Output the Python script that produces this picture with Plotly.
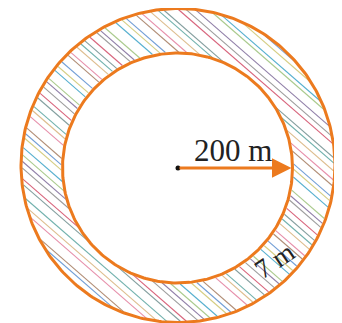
import numpy as np
import plotly.graph_objects as go

# values shown in the diagram
inner_radius_m = 200
path_width_m = 7
radius_label = f"{inner_radius_m} m"
width_label = f"{path_width_m} m"

# drawing (not to scale), in pixels
W, H = 342, 323
PAGE_MARGIN = 8  # default body margin of the html page
outer_c, outer_r = (178.0, 165.5), 157.0
inner_c, inner_r = (177.5, 168.0), 115.0
ORANGE = "#ec7a1e"

# hatch colours and gaps between neighbouring hatch lines
hatch_colors = ["#5b8fd0", "#8c8c8c", "#e37c9c", "#9cc27a", "#5aa5a0", "#cfc66e",
                "#d24a66", "#a47a5e", "#7e6a9a", "#d8b27a", "#3aa3c8", "#6f8f8f"]
hatch_gaps = [5, 8, 4, 9, 6, 5, 10, 4, 6, 7, 5, 9, 4, 6, 11, 5, 4, 8, 6, 5]
hatch_angle = 41  # degrees, "\" direction


def circle_xy(c, r, n=361):
    t = np.linspace(0, 2 * np.pi, n)
    return c[0] + r * np.cos(t), c[1] + r * np.sin(t)


def hatch_segments():
    a = np.radians(hatch_angle)
    d = np.array([np.cos(a), np.sin(a)])
    nrm = np.array([-np.sin(a), np.cos(a)])
    oc, ic = np.array(outer_c), np.array(inner_c)
    segs = {col: ([], []) for col in hatch_colors}
    t = -outer_r + 2
    k = 0
    while t < outer_r - 1:
        base = oc + t * nrm
        h = np.sqrt(outer_r ** 2 - t ** 2)
        s0, s1 = -h, h
        # intersection with inner circle in the same parametrisation
        rel = base - ic
        b = rel @ d
        cc = rel @ rel - inner_r ** 2
        disc = b * b - cc
        pieces = [(s0, s1)]
        if disc > 0:
            q = np.sqrt(disc)
            pieces = [(s0, -b - q), (-b + q, s1)]
        col = hatch_colors[(k * 5) % len(hatch_colors)]
        for p0, p1 in pieces:
            if p1 - p0 < 0.5:
                continue
            a0 = base + (p0 + 1.5) * d
            a1 = base + (p1 - 1.5) * d
            segs[col][0].extend([a0[0], a1[0], None])
            segs[col][1].extend([a0[1], a1[1], None])
        t += hatch_gaps[k % len(hatch_gaps)]
        k += 1
    return segs


fig = go.Figure()

for col, (xs, ys) in hatch_segments().items():
    fig.add_trace(go.Scatter(x=xs, y=ys, mode="lines", opacity=0.85,
                             line=dict(color=col, width=1.1), hoverinfo="skip"))

for c, r in [(outer_c, outer_r), (inner_c, inner_r)]:
    x, y = circle_xy(c, r)
    fig.add_trace(go.Scatter(x=x, y=y, mode="lines",
                             line=dict(color=ORANGE, width=3), hoverinfo="skip"))

# centre dot
fig.add_trace(go.Scatter(x=[178], y=[168], mode="markers",
                         marker=dict(color="#111111", size=5), hoverinfo="skip"))

# radius arrow
fig.add_annotation(x=inner_c[0] + inner_r - 1, y=168, ax=178, ay=168,
                   xref="x", yref="y", axref="x", ayref="y",
                   showarrow=True, arrowhead=2, arrowsize=1.3, arrowwidth=3,
                   arrowcolor=ORANGE, text="")

fig.add_annotation(x=233, y=150, xref="x", yref="y", text=radius_label,
                   showarrow=False,
                   font=dict(family="Liberation Serif", size=31, color="#222222"))

fig.add_annotation(x=274, y=261, xref="x", yref="y", text=width_label,
                   showarrow=False, textangle=-34,
                   font=dict(family="Liberation Serif", size=27, color="#222222"))

fig.update_layout(
    width=W, height=H,
    margin=dict(l=0, r=0, t=0, b=0),
    showlegend=False,
    plot_bgcolor="white",
    paper_bgcolor="white",
    xaxis=dict(range=[PAGE_MARGIN, W + PAGE_MARGIN], visible=False, fixedrange=True),
    yaxis=dict(range=[H + PAGE_MARGIN, PAGE_MARGIN], visible=False, fixedrange=True),
)

fig.write_html("out.html")
